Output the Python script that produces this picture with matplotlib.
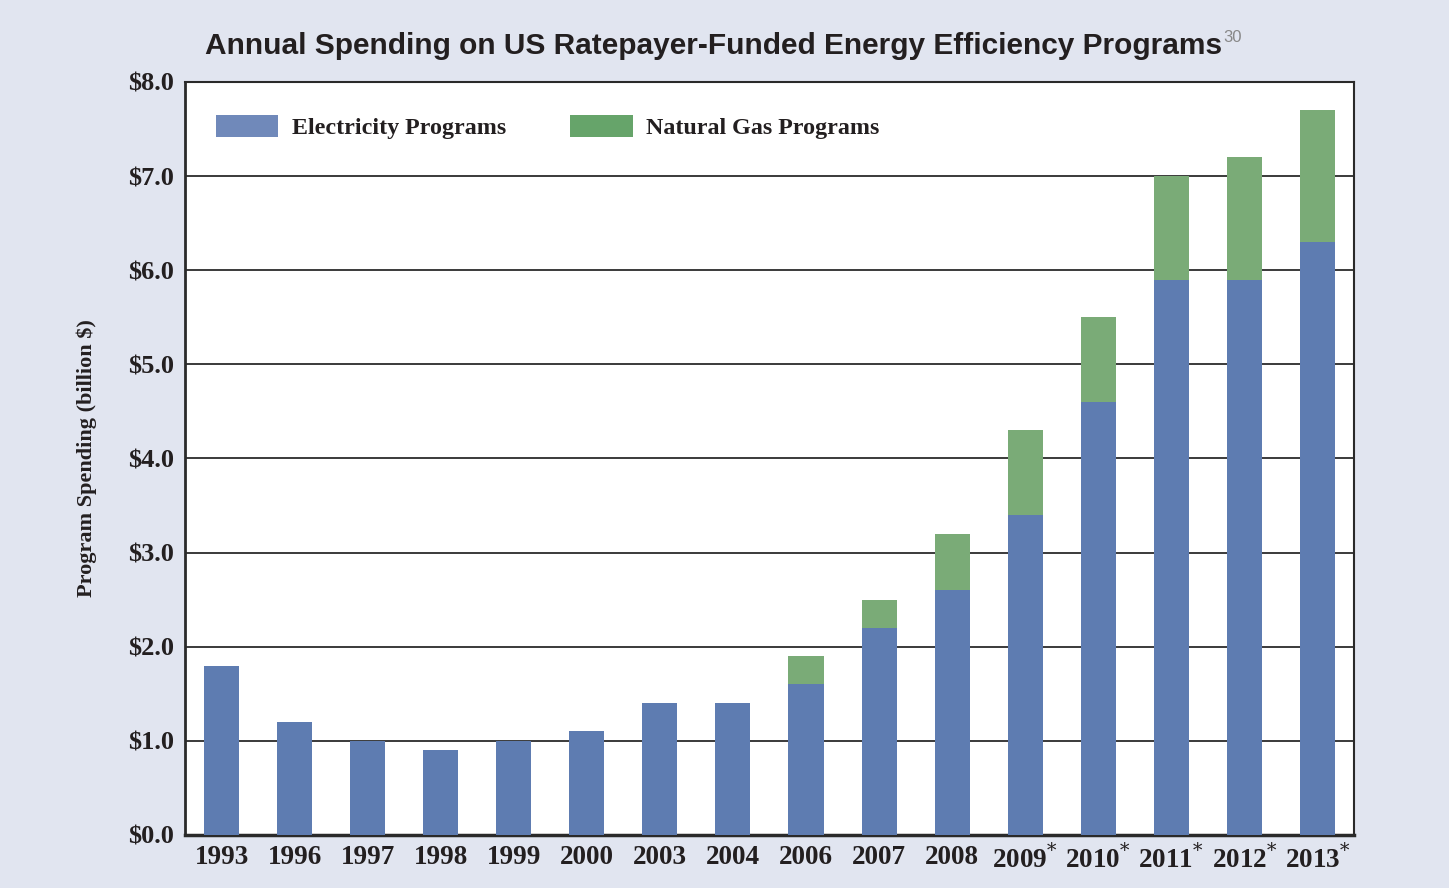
import numpy as np
import matplotlib
matplotlib.use('Agg')
import matplotlib.pyplot as plt
from matplotlib.patches import Patch

plt.rcParams.update({
    'font.family': ['Liberation Serif', 'DejaVu Serif'],
    'mathtext.fontset': 'dejavuserif',
})

# data (billion $)
years = ["1993", "1996", "1997", "1998", "1999", "2000", "2003", "2004",
         "2006", "2007", "2008", "2009*", "2010*", "2011*", "2012*", "2013*"]
electricity = [1.8, 1.2, 1.0, 0.9, 1.0, 1.1, 1.4, 1.4,
               1.6, 2.2, 2.6, 3.4, 4.6, 5.9, 5.9, 6.3]
natural_gas = [0.0, 0.0, 0.0, 0.0, 0.0, 0.0, 0.0, 0.0,
               0.3, 0.3, 0.6, 0.9, 0.9, 1.1, 1.3, 1.4]
yticks = [0, 1, 2, 3, 4, 5, 6, 7, 8]

BLUE = "#5E7CB1"
GREEN = "#7AAB77"
BG = "#E1E5F0"

fig = plt.figure(figsize=(14.49, 8.88), dpi=100, facecolor=BG)
ax = fig.add_axes([0.1277, 0.0597, 0.8067, 0.848])
ax.set_facecolor("white")

x = np.arange(len(years))
ax.bar(x, electricity, width=0.48, color=BLUE, zorder=3)
ax.bar(x, natural_gas, width=0.48, bottom=electricity, color=GREEN, zorder=3)

ax.set_xlim(-0.5, len(years) - 0.5)
ax.set_ylim(0, 8)
ax.set_yticks(yticks)
ax.set_yticklabels([f"${v:.1f}" for v in yticks], fontsize=19, fontweight="bold",
                   color="#231F20")
ax.yaxis.grid(True, color="#3a3a3a", lw=1.4, zorder=1)
ax.set_axisbelow(True)

# raised asterisk on the estimated years
labels = [y.replace("*", r"$^{*}$") for y in years]
ax.set_xticks(x)
ax.set_xticklabels(labels, fontsize=19.5, fontweight="bold", color="#231F20")
ax.tick_params(axis="y", length=0, pad=8)
ax.tick_params(axis="x", length=0, pad=7)

for s in ax.spines.values():
    s.set_color("#2a2a2a")
    s.set_linewidth(1.5)
ax.spines["left"].set_linewidth(2)
ax.spines["bottom"].set_linewidth(2.5)

ax.set_ylabel("Program Spending (billion $)", fontsize=16, fontweight="bold",
              color="#231F20", labelpad=22)

handles = [Patch(facecolor="#7089BA", label="Electricity Programs"),
           Patch(facecolor="#66A46A", label="Natural Gas Programs")]
leg = ax.legend(handles=handles, loc="upper left", ncol=2, frameon=False,
                bbox_to_anchor=(0.008, 0.985), handlelength=2.6, handleheight=1.05,
                handletextpad=0.55, columnspacing=2.67,
                prop={"family": ["Liberation Serif", "DejaVu Serif"],
                      "weight": "bold", "size": 17.3})
for t in leg.get_texts():
    t.set_color("#231F20")

fig.text(0.8435, 0.948, "Annual Spending on US Ratepayer-Funded Energy Efficiency Programs",
         ha="right", va="center", fontsize=21.5, fontweight="bold", color="#231F20",
         family=["Liberation Sans Narrow", "Liberation Sans", "DejaVu Sans"])
fig.text(0.8445, 0.958, "30", ha="left", va="center", fontsize=12, color="#888888",
         family=["Liberation Sans Narrow", "Liberation Sans", "DejaVu Sans"])

fig.savefig("out.png", dpi=100, facecolor=BG)
